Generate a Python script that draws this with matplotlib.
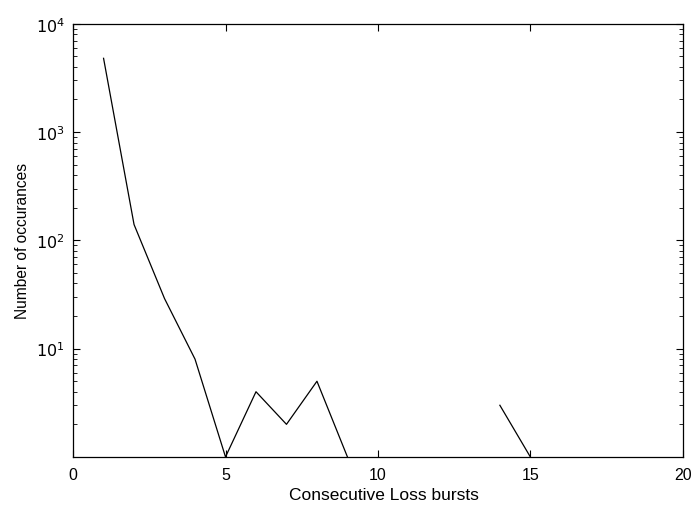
import matplotlib.pyplot as plt
import numpy as np

plt.rcParams['font.family'] = ['Liberation Sans', 'DejaVu Sans']

burst_len = list(range(1, 21))
occurrences = [4800, 140, 29, 8, 1, 4, 2, 5, 1, 0,
               0, 0, 0, 3, 1, 0, 0, 0, 0, 0]

y = np.array(occurrences, dtype=float)
y[y <= 0] = np.nan  # zero counts are not drawn on a log axis

fig = plt.figure(figsize=(6.96, 5.06), dpi=100)
ax = fig.add_axes([0.105, 0.095, 0.876, 0.856])
ax.plot(burst_len, y, color='black', linewidth=0.9)

ax.set_yscale('log')
ax.set_xlim(0, 20)
ax.set_ylim(1, 1e4)
ax.set_xticks([0, 5, 10, 15, 20])
ax.set_yticks([10, 100, 1000, 10000])
ax.set_yticklabels(['$10^1$', '$10^2$', '$10^3$', '$10^4$'])
ax.tick_params(which='both', direction='in', top=True, right=True, labelsize=11.5)
ax.tick_params(axis='x', which='major', pad=7)
ax.tick_params(axis='y', which='major', pad=6)
ax.tick_params(which='major', length=5)
ax.tick_params(which='minor', length=3)
for s in ax.spines.values():
    s.set_linewidth(0.9)

ax.set_xlabel('Consecutive Loss bursts', fontsize=12.5, labelpad=3)
ax.xaxis.set_label_coords(0.51, -0.07)
ax.set_ylabel('Number of occurances', fontsize=11.2, labelpad=4)

plt.savefig('out.png', dpi=100)
